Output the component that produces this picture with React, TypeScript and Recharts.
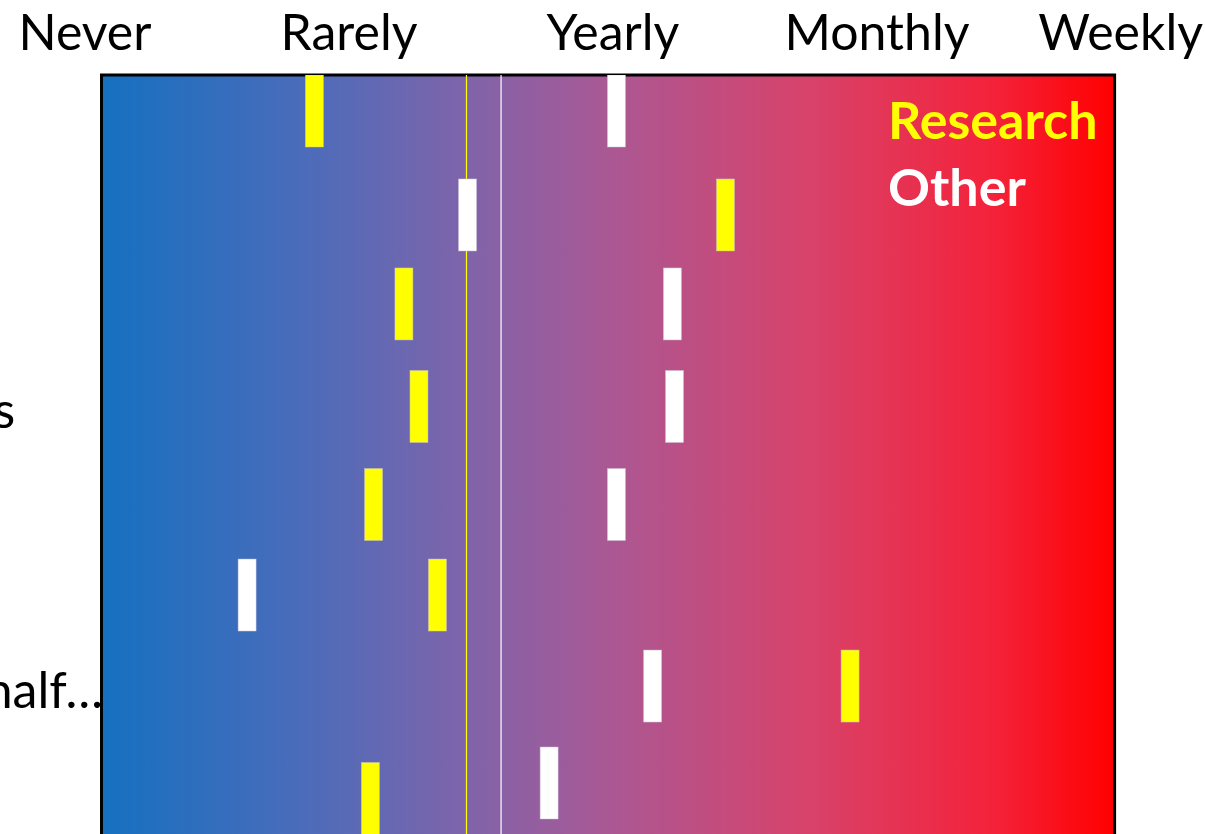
import React from "react";
import {
  ScatterChart,
  Scatter,
  XAxis,
  YAxis,
  ReferenceArea,
  ReferenceLine,
  Legend,
} from "recharts";

// Frequency scale: 0 = Never ... 4 = Weekly
const frequencyTicks = [0, 1, 2, 3, 4];
const frequencyLabels = ["Never", "Rarely", "Yearly", "Monthly", "Weekly"];

// Activities (rows, top to bottom) and their vertical positions
const rowLabels = ["Code", "Funds", "Travel", "Patents", "Data", "Press", "On behalf…", "Talks"];
const labelRow = [0.375, 1.458, 2.385, 3.453, 4.474, 5.417, 6.365, 7.455];

// Research group
const researchFreq = [0.869, 2.426, 1.208, 1.265, 1.093, 1.335, 2.898, 1.081];
const researchRow = [0.375, 1.458, 2.385, 3.453, 4.474, 5.417, 6.365, 7.536];

// Other group
const otherFreq = [2.013, 1.449, 2.225, 2.233, 2.013, 0.614, 2.15, 1.758];
const otherRow = [0.375, 1.458, 2.385, 3.453, 4.474, 5.417, 6.365, 7.375];

// Group averages (vertical lines)
const researchMean = 1.445;
const otherMean = 1.576;

// Frame of the coloured panel (in axis units)
const panelX = [0.0625, 3.9];
const panelY = [0, 9];

const researchData = researchFreq.map((f, i) => ({ freq: f, row: researchRow[i] }));
const otherData = otherFreq.map((f, i) => ({ freq: f, row: otherRow[i] }));

const W = 1205;
const H = 950;
const FONT = "Lato, 'Open Sans', sans-serif";

const BarMark = (props: any) => {
  const { cx, cy, fill } = props;
  if (cx == null || cy == null) return null;
  return (
    <rect
      x={cx - 9}
      y={cy - 36}
      width={18}
      height={72}
      fill={fill}
      stroke="rgba(200,190,215,0.8)"
      strokeWidth={0.6}
    />
  );
};

const XTick = (props: any) => {
  const { x, payload, index } = props;
  const last = index === frequencyTicks.length - 1;
  return (
    <text
      x={last ? W - 2 : x}
      y={50}
      textAnchor={last ? "end" : "middle"}
      fontFamily={FONT}
      fontSize={50}
      fill="#000"
    >
      {frequencyLabels[frequencyTicks.indexOf(payload.value)]}
    </text>
  );
};

const YTick = (props: any) => {
  const { y, index } = props;
  return (
    <text
      x={-150}
      y={y + 4}
      dy="0.35em"
      textAnchor="start"
      fontFamily={FONT}
      fontSize={50}
      fill="#000"
    >
      {rowLabels[index]}
    </text>
  );
};

const LegendContent = () => (
  <div style={{ fontFamily: FONT, fontWeight: 700, fontSize: 52, lineHeight: "67px" }}>
    <div style={{ color: "#FFFF00" }}>Research</div>
    <div style={{ color: "#FFFFFF" }}>Other</div>
  </div>
);

export default function App() {
  return (
    <div
      style={{
        position: "absolute",
        left: 0,
        top: 0,
        width: 1205,
        height: 834,
        overflow: "hidden",
        background: "#fff",
      }}
    >
      <ScatterChart
        width={W}
        height={H}
        margin={{ top: 0, right: 64, bottom: 11, left: 84 }}
        style={{ overflow: "visible" }}
      >
        <defs>
          <linearGradient id="panelGrad" x1="0" y1="0" x2="1" y2="0">
            <stop offset="0" stopColor="#1570C0" />
            <stop offset="0.2" stopColor="#4B6CBA" />
            <stop offset="0.36" stopColor="#7F64AA" />
            <stop offset="0.5" stopColor="#AA5894" />
            <stop offset="0.7" stopColor="#D8426A" />
            <stop offset="0.88" stopColor="#F4223A" />
            <stop offset="1" stopColor="#FF0000" />
          </linearGradient>
        </defs>
        <XAxis
          type="number"
          dataKey="freq"
          orientation="top"
          domain={[0, 4]}
          ticks={frequencyTicks}
          interval={0}
          height={75}
          axisLine={false}
          tickLine={false}
          tick={<XTick />}
          allowDataOverflow
        />
        <YAxis
          type="number"
          dataKey="row"
          domain={[0, 9]}
          reversed
          ticks={labelRow}
          interval={0}
          width={1}
          axisLine={false}
          tickLine={false}
          tick={<YTick />}
          allowDataOverflow
        />
        <ReferenceArea
          x1={panelX[0]}
          x2={panelX[1]}
          y1={panelY[0]}
          y2={panelY[1]}
          fill="url(#panelGrad)"
          fillOpacity={1}
          stroke="#000"
          strokeWidth={3}
          ifOverflow="visible"
        />
        <Legend
          layout="horizontal"
          verticalAlign="middle"
          align="center"
          content={<LegendContent />}
          wrapperStyle={{ position: "absolute", left: 888, top: 86, width: 280, height: 140 }}
        />
        <Scatter
          name="Research"
          data={researchData}
          fill="#FFFF00"
          shape={<BarMark />}
          isAnimationActive={false}
        />
        <Scatter
          name="Other"
          data={otherData}
          fill="#FFFFFF"
          shape={<BarMark />}
          isAnimationActive={false}
        />
        <ReferenceLine x={researchMean} stroke="#FFFF00" strokeWidth={1.2} />
        <ReferenceLine x={otherMean} stroke="#FFFFFF" strokeWidth={1.2} />
      </ScatterChart>
    </div>
  );
}
